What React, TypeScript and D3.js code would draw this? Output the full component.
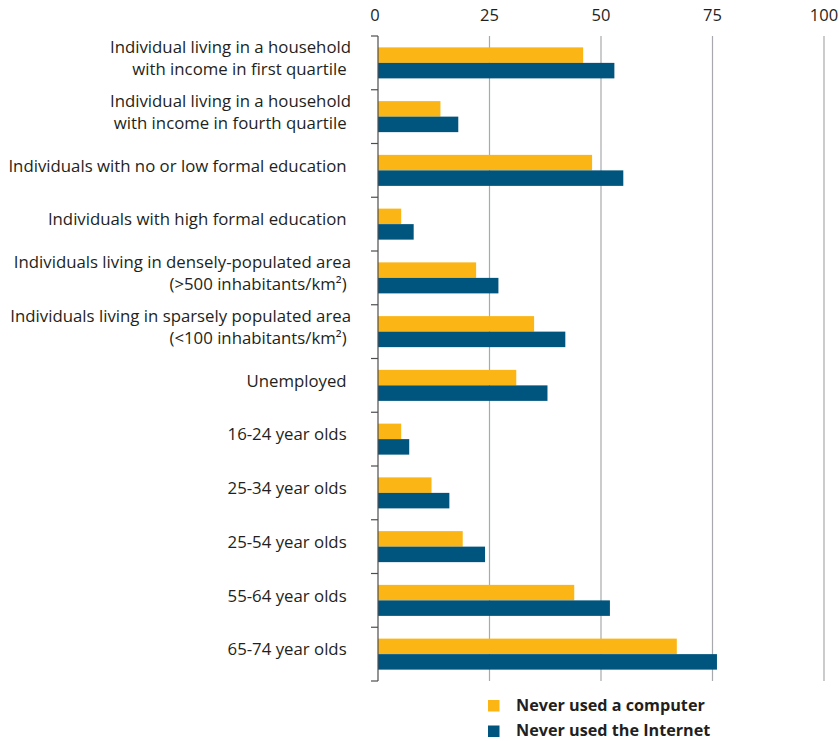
import React from "react";
import * as d3 from "d3";

const categories = [
  "Individual living in a household|with income in first quartile\u00a0",
  "Individual living in a household|with income in fourth quartile\u00a0",
  "Individuals with no or low formal education\u00a0",
  "Individuals with high formal education\u00a0",
  "Individuals living in densely-populated area|(>500 inhabitants/km²)\u00a0",
  "Individuals living in sparsely populated area|(<100 inhabitants/km²)\u00a0",
  "Unemployed\u00a0",
  "16-24 year olds\u00a0",
  "25-34 year olds\u00a0",
  "25-54 year olds\u00a0",
  "55-64 year olds\u00a0",
  "65-74 year olds\u00a0",
];
const computerValues = [46, 14, 48, 5.2, 22, 35, 31, 5.2, 12, 19, 44, 67];
const internetValues = [53, 18, 55, 8, 27, 42, 38, 7, 16, 24, 52, 76];
const xTicks = [0, 25, 50, 75, 100];
const seriesNames = ["Never used a computer", "Never used the Internet"];
const seriesColors = ["#FBB616", "#00557F"];

const W = 839;
const H = 741;
const FONT = "'Open Sans', sans-serif";

export default function App() {
  const x = d3.scaleLinear().domain([0, 100]).range([378, 824]);
  const padding = 0.423;
  const y = d3
    .scaleBand<string>()
    .domain(categories)
    .range([36, 681])
    .paddingInner(padding)
    .paddingOuter(padding / 2);
  const step = y.step();
  const sub = d3
    .scaleBand<number>()
    .domain([0, 1])
    .range([0, y.bandwidth()]);
  const series = [computerValues, internetValues];
  const top = 36;
  const bottom = 681;
  const boundaries = d3.range(categories.length + 1).map((i) => top + i * step);

  return (
    <div style={{ position: "absolute", left: 0, top: 0 }}>
      <svg width={W} height={H} style={{ display: "block", fontFamily: FONT }}>
        <rect width={W} height={H} fill="#fff" />
        {xTicks.map((t) => (
          <g key={t}>
            {t > 0 && (
              <line x1={x(t)} x2={x(t)} y1={top} y2={bottom} stroke="#a7a9ac" strokeWidth={1.2} />
            )}
            <text x={x(t) - (t === 0 ? 3 : 0)} y={21} textAnchor="middle" fontSize={16.5} fill="#231f20">
              {t}
            </text>
          </g>
        ))}
        {series.map((vals, si) =>
          categories.map((c, i) => (
            <rect
              key={si + "-" + i}
              x={x(0)}
              y={(y(c) as number) + (sub(si) as number)}
              width={x(vals[i]) - x(0)}
              height={sub.bandwidth()}
              fill={seriesColors[si]}
            />
          ))
        )}
        <line x1={x(0)} x2={x(0)} y1={top} y2={bottom} stroke="#4d4d4f" strokeWidth={1.2} />
        {boundaries.map((b, i) => (
          <line key={i} x1={x(0) - 7} x2={x(0)} y1={b} y2={b} stroke="#4d4d4f" strokeWidth={1.2} />
        ))}
        {categories.map((c) => {
          const lines = c.split("|");
          const cy = (y(c) as number) + y.bandwidth() / 2 - 4.5;
          const lh = 22.5;
          return (
            <text
              key={c}
              textAnchor="end"
              fontSize={16.8}
              fill="#231f20"
              style={{ whiteSpace: "pre" }}
            >
              {lines.map((l, li) => (
                <tspan key={li} x={351} y={cy + 5.8 + (li - (lines.length - 1) / 2) * lh}>
                  {l}
                </tspan>
              ))}
            </text>
          );
        })}
        {seriesNames.map((n, i) => (
          <g key={n}>
            <rect x={488} y={700 + i * 25.5} width={11.5} height={11.5} fill={seriesColors[i]} />
            <text x={516} y={710.8 + i * 25.2} fontSize={16.2} fontWeight="bold" fill="#231f20">
              {n}
            </text>
          </g>
        ))}
      </svg>
    </div>
  );
}
